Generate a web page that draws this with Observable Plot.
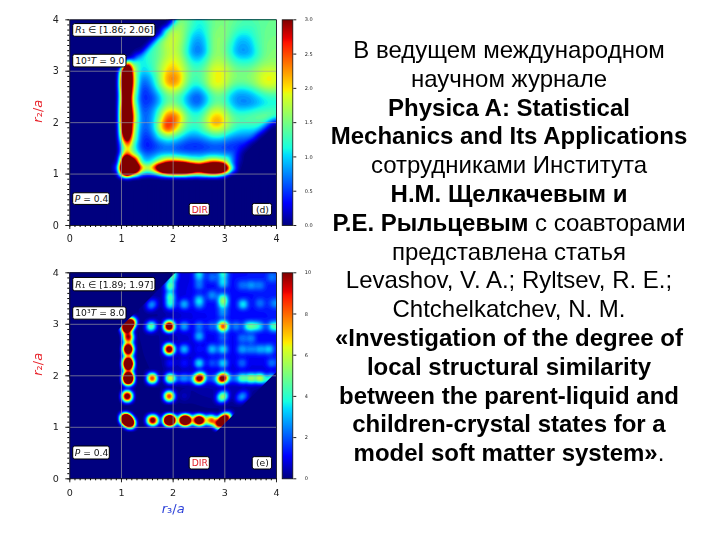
<!DOCTYPE html>
<html><head><meta charset="utf-8">
<script src="https://cdn.jsdelivr.net/npm/d3@7"></script>
<script src="https://cdn.jsdelivr.net/npm/@observablehq/plot@0.6"></script>
<style>
html,body{margin:0;padding:0;background:#fff;width:712px;height:535px;overflow:hidden}
.p{position:absolute;left:0}
#chart{position:absolute;left:0;top:0;width:340px;height:535px;filter:blur(.35px)}
#txt{position:absolute;left:304px;top:36px;width:410px;text-align:center;font-family:"Liberation Sans",Arial,sans-serif;font-size:24px;line-height:28.8px;color:#000;white-space:nowrap}
</style></head><body>
<div id="chart"></div>
<div id="txt"></div>
<script>
// Panel (d): values read on a grid (r3 columns, r2 rows from the top down)
const dR3 = [.93,1.02,1.1,1.2,1.375,1.5,1.625,1.75,1.875,2,2.125,2.25,2.375,2.5,2.625,2.75,2.875,3,3.125,3.25,3.375,3.5,3.625,3.75,3.875,4];
const dR2 = [4,3.875,3.75,3.625,3.5,3.375,3.25,3.125,3,2.875,2.75,2.625,2.5,2.375,2.25,2.125,2,1.875,1.75,1.625,1.5,1.375,1.22,1.115,1.02,.93];
const dRows = [
[0,0,0,0,0,0,0,0,0,.2,1.5,1.45,1.3,1.15,1.3,1.45,1.55,1.55,1.5,1.4,1.35,1.35,1.4,1.45,1.45,1.45],
[0,0,0,0,0,0,0,0,.2,1.5,1.7,1.5,1.25,1.1,1.2,1.45,1.55,1.55,1.45,1.35,1.3,1.3,1.35,1.45,1.45,1.45],
[0,0,0,0,0,0,0,.2,1.5,1.8,1.75,1.45,1.1,1,1.15,1.5,1.6,1.55,1.4,1.2,1.15,1.2,1.35,1.45,1.5,1.5],
[0,0,0,0,0,0,.2,1.35,1.75,1.85,1.75,1.4,.95,.85,1.05,1.5,1.65,1.55,1.3,1,.95,1.05,1.3,1.45,1.5,1.5],
[0,0,0,0,0,.2,1.25,1.5,1.8,1.85,1.7,1.3,.85,.75,1,1.5,1.65,1.5,1.2,.9,.85,.95,1.25,1.45,1.55,1.55],
[0,0,0,0,.15,1.15,1.35,1.5,1.75,1.85,1.7,1.25,.8,.7,.95,1.5,1.65,1.5,1.15,.85,.8,.9,1.2,1.45,1.55,1.55],
[0,0,0,.2,1.05,1.2,1.35,1.55,1.8,1.95,1.8,1.4,1,.95,1.2,1.6,1.7,1.6,1.3,1.1,1.05,1.1,1.3,1.5,1.6,1.6],
[0,0,3.5,1.6,1.1,1.15,1.35,1.65,1.95,2.05,1.9,1.55,1.25,1.2,1.4,1.75,1.85,1.75,1.5,1.35,1.3,1.35,1.5,1.65,1.7,1.65],
[0,2.6,7,2.2,1,1.05,1.3,1.7,2.1,2.2,2.05,1.65,1.35,1.35,1.55,1.9,2,1.9,1.65,1.5,1.5,1.55,1.7,1.85,1.9,1.85],
[0,3.1,8,2.4,.8,.8,1.15,1.7,2.25,2.4,2.2,1.65,1.35,1.35,1.55,1.9,2,1.9,1.65,1.55,1.55,1.6,1.75,1.95,2,1.9],
[0,3.2,8,2.4,.65,.65,1,1.6,2.15,2.3,2.1,1.55,1.2,1.2,1.5,1.9,2,1.85,1.55,1.4,1.4,1.5,1.7,1.9,1.95,1.85],
[0,2.9,7,2.2,.55,.5,.8,1.25,1.7,1.85,1.65,1.25,.9,.85,1.15,1.55,1.7,1.55,1.2,1,1,1.1,1.3,1.5,1.6,1.55],
[0,2.7,6,1.9,.5,.45,.6,1,1.4,1.5,1.3,.95,.65,.6,.9,1.3,1.45,1.3,.95,.8,.8,.85,1,1.15,1.25,1.25],
[0,2.9,6,2,.55,.5,.65,1,1.45,1.55,1.35,1,.7,.65,.95,1.35,1.5,1.35,1,.8,.75,.8,.9,1.05,1.15,1.15],
[0,3.2,7,2.3,.65,.6,.85,1.35,1.9,2,1.75,1.3,1,1,1.3,1.75,1.85,1.65,1.25,1.05,1.05,1.1,1.2,1.25,1.3,1.3],
[0,3.3,8,2.5,.75,.65,.95,1.6,2.4,2.55,2.2,1.55,1.25,1.25,1.6,2.05,2.15,1.9,1.5,1.35,1.35,1.4,1.45,1.5,1.45,1.2],
[0,3.2,7,2.4,.75,.65,1,1.9,2.75,2.6,2.1,1.5,1.3,1.35,1.65,2.2,2.3,1.95,1.55,1.35,1.35,1.35,1.35,1.25,.6,.1],
[0,3,7,2.2,.7,.6,1,1.9,2.7,2.3,1.75,1.3,1.15,1.2,1.5,1.85,1.9,1.7,1.35,1.15,1.1,1.1,1.05,.5,0,0],
[0,2.4,5,2,.6,.5,.8,1.3,1.6,1.5,1.2,.95,.85,.9,1.05,1.25,1.3,1.15,.95,.85,.8,.8,.3,0,0,0],
[0,1.5,3.3,1.7,.55,.4,.55,.8,.95,.9,.75,.6,.55,.55,.65,.75,.75,.7,.6,.55,.55,.2,0,0,0,0],
[0,1.1,2.1,1.5,.55,.4,.5,.6,.65,.6,.5,.45,.45,.45,.5,.55,.55,.5,.45,.45,.2,0,0,0,0,0],
[0,1.4,3,1.9,.9,.65,.75,.95,1,1,.9,.85,.8,.8,.85,.9,.9,.85,.75,.3,0,0,0,0,0,0],
[.1,3,8,4.5,1.3,1,1.3,1.9,2.6,2.7,2.6,2.3,1.9,1.7,2.1,2.5,2.4,2,.9,.2,0,0,0,0,0,0],
[.6,5,10,7,2.6,2,2.8,5,7,8,8,7,5.5,4.5,5.5,7,7,5,1.6,.1,0,0,0,0,0,0],
[.1,3.2,6,3.2,1.1,.8,1.1,2,2.8,3,3,2.9,2.4,2.2,2.6,3,2.8,1.8,.1,0,0,0,0,0,0,0],
[0,0,.1,0,0,0,0,0,0,0,0,0,0,0,0,0,0,0,0,0,0,0,0,0,0,0]
];
// Zero ring just outside the grid, so nothing bleeds to the empty part of the panel
const dRing = .8;
// Panel (e): faint background level read on a coarse grid
const eBgR3 = [1,1.4,1.7,2.1,2.5,2.9,3.3,3.7,4];
const eBgR2 = [4,3.6,3.2,2.8,2.4,2,1.6,1.2];
const eBgRows = [
[0,0,.3,.8,1.1,1.4,1.3,1.4,1.4],
[0,.2,.4,.9,1.2,1.3,1.2,1.4,1.4],
[0,.2,.3,.8,1.1,1.3,1.2,1.3,1.4],
[0,.2,.3,.7,1,1.2,1.1,1.2,1.3],
[0,.15,.3,.6,.9,1.1,1.1,1.2,1.2],
[0,.1,.2,.4,.6,.8,.8,.8,.3],
[0,.1,.1,.2,.3,.4,.3,0,0],
[0,0,0,0,0,0,0,0,0]
];
// Panel (e): the separate maxima [r3, r2, height]
const ePeaks = [
[1.07,1.17,13],[1.15,1.07,13],[1.11,1.12,13],
[1.10,1.565,7],[1.10,1.605,7],[1.115,1.90,14],[1.115,1.98,14],[1.12,2.17,13],[1.12,2.28,13],
[1.12,2.46,10],[1.12,2.54,10],[1.125,2.72,6],[1.125,2.76,6],[1.08,2.91,12],[1.13,2.97,12],[1.18,3.02,10],
[1.56,1.12,7],[1.62,1.12,7],[1.89,1.12,14],[1.96,1.12,14],[2.18,1.12,13],[2.26,1.12,13],
[2.46,1.12,10],[2.54,1.12,10],[2.70,1.12,5],[2.75,1.12,5],[2.87,1.04,10],[2.96,1.12,12],[3.04,1.19,8],
[1.55,2.93,2.8],[1.59,2.97,2.8],[1.575,1.94,10],[1.54,3.34,1.6],[1.6,3.4,1.6],
[1.92,2.96,14],[1.92,2.5,13],[1.93,1.94,7],[1.92,1.585,10],[1.93,2.23,1],[1.93,3.37,3.6],[1.93,3.54,4],[1.93,3.72,4.5],[1.95,3.88,2.4],[1.99,3.94,2.4],
[2.21,2.95,2.4],[2.21,2.5,2.8],[2.21,1.94,2.4],[2.21,3.37,2.4],[2.21,2.23,.8],[2.21,1.585,.4],
[2.47,1.92,7],[2.53,1.96,7],[2.5,2.23,3.2],[2.5,2.75,2.4],[2.5,2.95,1.6],[2.5,3.37,1.6],[2.5,3.47,2],[2.5,2.5,.4],[2.5,3.75,1.4],[2.5,3.93,2.4],
[2.74,2.5,2.4],[2.74,2.95,1.2],[2.74,2.23,1.2],[2.74,1.94,1.6],[2.74,3.55,1.6],[2.74,3.9,1.2],
[2.95,2.96,8.5],[2.92,1.92,7],[2.98,1.96,7],[2.92,1.55,3.5],[2.98,1.62,3.5],[2.95,2.5,2.8],[2.95,2.23,2.8],[2.95,2.74,1.2],[2.95,3.37,3.2],[2.95,3.49,3.6],[2.95,3.78,2.4],[2.95,3.95,2.4],[2.95,3.2,1.6],
[3.33,1.94,4.5],[3.35,3.37,2.8],[3.29,1.55,1.8],[3.36,1.62,1.8],[3.33,2.5,2],[3.33,2.23,1.4],[3.33,2.72,1.4],[3.33,3.75,1.2],
[3.43,2.95,3.2],[3.56,2.95,2.8],[3.5,1.94,5.5],[3.5,2.5,1.6],[3.5,3.75,1.6],[3.5,2.72,1.6],
[3.68,1.94,6],[3.68,2.96,2],[3.68,2.5,2],[3.68,3.4,1.2],[3.68,3.75,1.2],
[3.82,1.9,2.6],[3.9,1.97,2.6],[3.92,2.96,3.2],[3.85,2.5,2.4],[3.9,2.23,1.6],[3.95,3.4,1.2],[3.9,3.9,1.2],
[3.2,2.96,1.6],[2.07,1.94,1.2],[2.36,1.94,1.6],[3.15,1.94,1.6]
];
const dMax = 3, eMax = 10;
const dCbTicks = [0,.5,1,1.5,2,2.5,3], eCbTicks = [0,2,4,6,8,10];
const majorTicks = [0,1,2,3,4], gridTicks = [1,2,3];
const dLabels = ["R₁ ∈ [1.86; 2.06]","10³T = 9.0","P = 0.4","DIR","(d)"];
const eLabels = ["R₁ ∈ [1.89; 1.97]","10³T = 8.0","P = 0.4","DIR","(e)"];
const jetStops = [0,.11,.34,.375,.64,.66,.89,.91,1];
const jetColors = ["#00007f","#0000ff","#00dbff","#16ffe1","#e1ff16","#ffec00","#ff1300","#e80000","#7f0000"];
const minorTicks = d3.range(0,41).map(i=>i/10);
const bg = "#00007f";

// Label boxes in data units: [x1,x2,y1,y2]
const dBoxes = [[.066,1.657,3.67,3.917],[.066,1.097,3.074,3.32],[.066,.774,.40,.627],[2.32,2.71,.194,.42],[3.54,3.915,.194,.42]];
const eBoxes = [[.066,1.657,3.64,3.90],[.066,1.097,3.09,3.33],[.066,.774,.375,.627],[2.32,2.71,.18,.42],[3.54,3.915,.18,.42]];

function italicize(svg){
  d3.select(svg).selectAll("text").each(function(){
    const s=this.textContent;
    if(!/^(R₁|10³T|P =|r[₂₃]\/a)/.test(s)) return;
    const parts=s.split(/([RPTra])/).filter(x=>x!=="");
    this.textContent="";
    for(const p of parts){
      const t=document.createElementNS("http://www.w3.org/2000/svg","tspan");
      if(/^[RPTra]$/.test(p)) t.setAttribute("font-style","italic");
      t.textContent=p; this.appendChild(t);
    }
  });
}
// Coarse background samples are spread between them; maxima are placed and left to the contour blur
function eField(nBase,gain){
  return (index,w,h,X,Y,V)=>{
    const all=Array.from(index);
    const base=Plot.interpolatorBarycentric()(all.filter(i=>i<nBase),w,h,X,Y,V);
    const out=Float64Array.from(base,v=>+v||0);
    for(const i of all){
      if(i<nBase) continue;
      const px=Math.round(X[i]),py=Math.round(Y[i]);
      if(px>=0&&px<w&&py>=0&&py<h) out[py*w+px]+=V[i]*gain;
    }
    return out;
  };
}
function panel(o){
  const L=69.3,T=19.3,W=206.7,H=o.h;
  const boxes=o.boxes.map((b,i)=>({x1:b[0],x2:b[1],y1:b[2],y2:b[3],label:o.labels[i],red:o.labels[i]==="DIR"}));
  const svg=Plot.plot({
    width:300,height:T+H+40,marginLeft:L,marginRight:300-L-W,marginTop:T,marginBottom:40,
    style:{background:"transparent",fontFamily:"DejaVu Sans",overflow:"visible"},
    x:{domain:[0,4]},y:{domain:[0,4]},
    color:{type:"linear",domain:jetStops.map(s=>s*o.max),range:jetColors,clamp:true},
    marks:[
      Plot.frame({fill:bg,stroke:"none"}),
      o.contour,
      ...(o.mask||[]),
      Plot.gridX(gridTicks,{stroke:"#a0a0a0",strokeOpacity:.65,strokeWidth:1}),
      Plot.gridY(gridTicks,{stroke:"#a0a0a0",strokeOpacity:.65,strokeWidth:1}),
      Plot.rect(boxes,{x1:"x1",x2:"x2",y1:"y1",y2:"y2",fill:"white",stroke:"black",strokeWidth:1,rx:2}),
      Plot.text(boxes,{x:d=>(d.x1+d.x2)/2,y:d=>(d.y1+d.y2)/2,text:"label",fontSize:9.2,fill:d=>d.red?"#e0202a":"#111"}),
      Plot.axisX({ticks:minorTicks,tickSize:2,tickFormat:()=>"",label:null}),
      Plot.axisY({ticks:minorTicks,tickSize:2,tickFormat:()=>"",label:null}),
      Plot.axisX({ticks:majorTicks,tickSize:4,tickPadding:6,tickFormat:d3.format("d"),fontSize:9.6,label:null,color:"#222"}),
      Plot.axisY({ticks:majorTicks,tickSize:4,tickPadding:7,tickFormat:d3.format("d"),fontSize:9.6,label:null,color:"#222"}),
      Plot.text(["r₂/a"],{frameAnchor:"left",rotate:-90,dx:-32,fontSize:13,fill:"#e8242c"}),
      ...(o.xlabel?[Plot.text([o.xlabel],{frameAnchor:"bottom",dy:34,fontSize:13,fill:"#2a3fd8"})]:[]),
      Plot.frame({stroke:"#111",strokeWidth:.8})
    ]
  });
  italicize(svg);
  svg.setAttribute("class","p"); svg.style.top=o.top+"px";
  document.getElementById("chart").appendChild(svg);

  const cb=Plot.plot({
    width:330,height:T+H+10,marginLeft:281.7,marginRight:330-292.3,marginTop:T,marginBottom:10,
    style:{background:"transparent",fontFamily:"DejaVu Sans",overflow:"visible"},
    x:{domain:[0,1],axis:null},y:{domain:[0,o.max]},
    color:{type:"linear",domain:jetStops.map(s=>s*o.max),range:jetColors},
    marks:[
      Plot.raster({fill:(x,y)=>y,x1:0,x2:1,y1:0,y2:o.max,pixelSize:1}),
      Plot.axisY({anchor:"right",ticks:o.cbTicks,tickSize:3,tickPadding:9,tickFormat:o.cbFormat,fontSize:5,label:null,color:"#222"}),
      Plot.frame({stroke:"#111",strokeWidth:.8})
    ]
  });
  cb.setAttribute("class","p"); cb.style.top=o.top+"px"; cb.style.pointerEvents="none";
  document.getElementById("chart").appendChild(cb);
}
// Panel d points
const dPoints=[];
dRows.forEach((row,i)=>row.forEach((v,j)=>dPoints.push({r3:dR3[j],r2:dR2[i],v})));
dR2.forEach(r2=>dPoints.push({r3:dRing,r2,v:0}));
dR3.forEach(r3=>dPoints.push({r3,r2:dRing,v:0}));
dPoints.push({r3:dRing,r2:dRing,v:0});
panel({top:0,h:205.7,max:dMax,boxes:dBoxes,labels:dLabels,cbTicks:dCbTicks,cbFormat:d3.format(".1f"),
  contour:Plot.contour(dPoints,{x:"r3",y:"r2",fill:"v",interpolate:"barycentric",blur:1.6,pixelSize:1,
    thresholds:d3.range(0,61).map(i=>i*dMax/60),clip:true})});
// Panel e
const ePoints=[];
eBgRows.forEach((row,i)=>row.forEach((v,j)=>ePoints.push({r3:eBgR3[j],r2:eBgR2[i],v})));
const nBase=ePoints.length;
ePeaks.forEach(([r3,r2,v])=>ePoints.push({r3,r2,v}));
const blurR=2.8, cut=1.94;
panel({top:253,h:206,max:eMax,boxes:eBoxes,labels:eLabels,cbTicks:eCbTicks,cbFormat:d3.format("d"),xlabel:"r₃/a",
  contour:Plot.contour(ePoints,{x:"r3",y:"r2",fill:"v",interpolate:eField(nBase,2*Math.PI*blurR*(blurR+1)),blur:blurR,pixelSize:1,
    thresholds:d3.range(0,61).map(i=>i*eMax/60),x1:0,x2:4,y1:0,y2:4,clip:true}),
  mask:[
    Plot.areaY([0,4-cut],{x:d=>d,y1:d=>d+cut,y2:()=>4,fill:bg}),
    Plot.areaY([cut,4],{x:d=>d,y1:()=>0,y2:d=>d-cut,fill:bg})
  ]});

// Right-hand text
const textLines=[
 "В ведущем международном","научном журнале",
 "<b>Physica A: Statistical</b>","<b>Mechanics and Its Applications</b>",
 "сотрудниками Института","<b>Н.М. Щелкачевым и</b>",
 "<b>Р.Е. Рыльцевым</b> с соавторами","представлена статья",
 "Levashov, V. A.; Ryltsev, R. E.;","Chtchelkatchev, N. M.",
 "<b>«Investigation of the degree of</b>","<b>local structural similarity</b>",
 "<b>between the parent-liquid and</b>","<b>children-crystal states for a</b>",
 "<b>model soft matter system»</b>."];
document.getElementById("txt").innerHTML=textLines.map(l=>`<div>${l}</div>`).join("");
</script>
</body></html>
